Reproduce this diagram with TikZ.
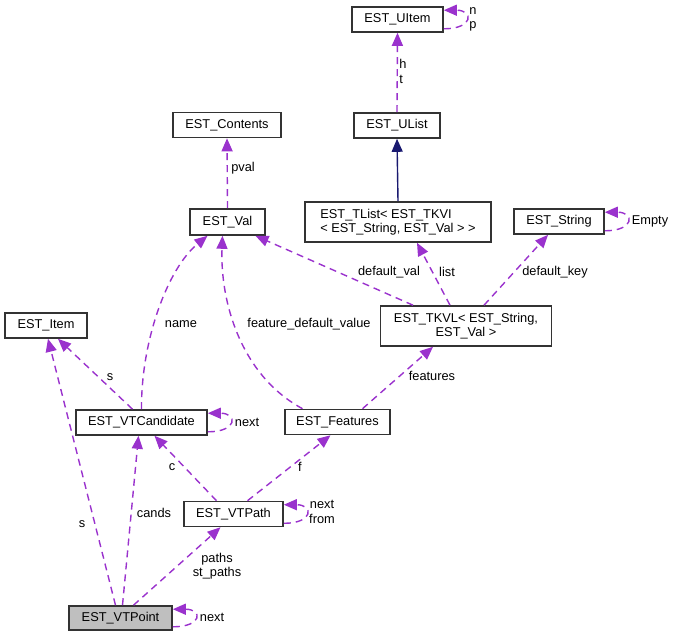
\documentclass[tikz,border=0pt]{standalone}
\usepackage{fontspec}
\setmainfont{Liberation Sans}
\usetikzlibrary{arrows.meta}
\definecolor{edgepurple}{HTML}{9A32CD}
\definecolor{basenavy}{HTML}{191970}
\begin{document}
\begin{tikzpicture}[
    x=1pt, y=-1pt,
    every node/.style={font=\fontsize{12.8}{14.5}\selectfont},
    cls/.style={draw=black!80, line width=1.6pt, fill=white, rectangle, inner sep=2pt},
    current/.style={cls, fill=black!25},
    member/.style={draw=edgepurple, line width=1.4pt, dash pattern=on 7pt off 5pt,
        -{Triangle[length=13pt, width=11pt, fill=edgepurple, sharp]}},
    inherit/.style={draw=basenavy, line width=1.4pt,
        -{Triangle[length=13pt, width=11pt, fill=basenavy]}},
    lbl/.style={inner sep=0pt, text=black}
]
\useasboundingbox (0,0) rectangle (676,637);

\node[cls, minimum width=91, minimum height=25] (uitem) at (397.5,19.5) {EST\_UItem};
\node[cls, minimum width=86, minimum height=25] (ulist) at (397,125.5) {EST\_UList};
\node[cls, minimum width=108, minimum height=25] (contents) at (227,125) {EST\_Contents};
\node[cls, minimum width=75, minimum height=26] (val) at (227.5,222) {EST\_Val};
\node[cls, minimum width=186, minimum height=40, align=left] (tlist) at (398,222)
    {EST\_TList< EST\_TKVI\\< EST\_String, EST\_Val > >};
\node[cls, minimum width=90, minimum height=25] (string) at (559,221.5) {EST\_String};
\node[cls, minimum width=171, minimum height=40, align=center] (tkvl) at (466,326)
    {EST\_TKVL< EST\_String,\\EST\_Val >};
\node[cls, minimum width=82, minimum height=25] (item) at (46,325.5) {EST\_Item};
\node[cls, minimum width=131, minimum height=25] (cand) at (141.5,422.5) {EST\_VTCandidate};
\node[cls, minimum width=105, minimum height=25] (feat) at (337.5,422) {EST\_Features};
\node[cls, minimum width=99, minimum height=25] (path) at (233.5,514) {EST\_VTPath};
\node[current, minimum width=103, minimum height=24] (point) at (120.5,618) {EST\_VTPoint};

\draw[member] ([yshift=4pt]uitem.south east) .. controls +(30,0) and +(30,0) .. ([yshift=-4pt]uitem.north east);
\draw[member] (ulist.north) -- (uitem.south);
\draw[inherit] (tlist.north) -- (ulist.south);
\draw[member] (val.north) -- (contents.south);
\draw[member] ([xshift=-53pt]tkvl.north) -- ([xshift=28pt]val.south);
\draw[member] ([xshift=-16pt]tkvl.north) -- ([xshift=19pt]tlist.south);
\draw[member] ([xshift=18pt]tkvl.north) -- ([xshift=-11pt]string.south);
\draw[member] ([yshift=4pt]string.south east) .. controls +(30,0) and +(30,0) .. ([yshift=-4pt]string.north east);
\draw[member] (cand.north) .. controls (141,340) and (168,268) .. ([xshift=-20pt]val.south);
\draw[member] ([xshift=-35pt]feat.north) .. controls (240,375) and (220,300) .. ([xshift=-5pt]val.south);
\draw[member] ([xshift=-9pt]cand.north) -- ([xshift=12pt]item.south);
\draw[member] ([yshift=4pt]cand.south east) .. controls +(30,0) and +(30,0) .. ([yshift=-4pt]cand.north east);
\draw[member] ([xshift=25pt]feat.north) -- ([xshift=-33pt]tkvl.south);
\draw[member] ([xshift=-17pt]path.north) -- ([xshift=13pt]cand.south);
\draw[member] ([xshift=14pt]path.north) -- ([xshift=-7pt]feat.south);
\draw[member] ([yshift=4pt]path.south east) .. controls +(30,0) and +(30,0) .. ([yshift=-4pt]path.north east);
\draw[member] ([xshift=-5pt]point.north) -- ([xshift=2pt]item.south);
\draw[member] ([xshift=2pt]point.north) -- ([xshift=-3pt]cand.south);
\draw[member] ([xshift=13pt]point.north) -- ([xshift=-13pt]path.south);
\draw[member] ([yshift=4pt]point.south east) .. controls +(30,0) and +(30,0) .. ([yshift=-4pt]point.north east);

\node[lbl, align=center] (l-np) at (473,19.5) {n\\p};
\node[lbl, align=left] (l-ht) at (403,71.5) {h\\t};
\node[lbl] (l-pval) at (243,168) {pval};
\node[lbl] (l-dval) at (389,272) {default\_val};
\node[lbl] (l-list) at (447,272) {list};
\node[lbl] (l-dkey) at (555,272) {default\_key};
\node[lbl] (l-empty) at (650,221) {Empty};
\node[lbl] (l-name) at (181,324) {name};
\node[lbl] (l-fdv) at (309,324) {feature\_default\_value};
\node[lbl] (l-s1) at (110,377) {s};
\node[lbl] (l-next1) at (247,422) {next};
\node[lbl] (l-feats) at (432,376) {features};
\node[lbl] (l-c) at (172,467) {c};
\node[lbl] (l-f) at (300,467) {f};
\node[lbl, align=center] (l-nf) at (322,512) {next\\from};
\node[lbl] (l-s2) at (82,524) {s};
\node[lbl] (l-cands) at (154,513) {cands};
\node[lbl, align=center] (l-paths) at (217,566) {paths\\st\_paths};
\node[lbl] (l-next2) at (212,617) {next};
\end{tikzpicture}
\end{document}
